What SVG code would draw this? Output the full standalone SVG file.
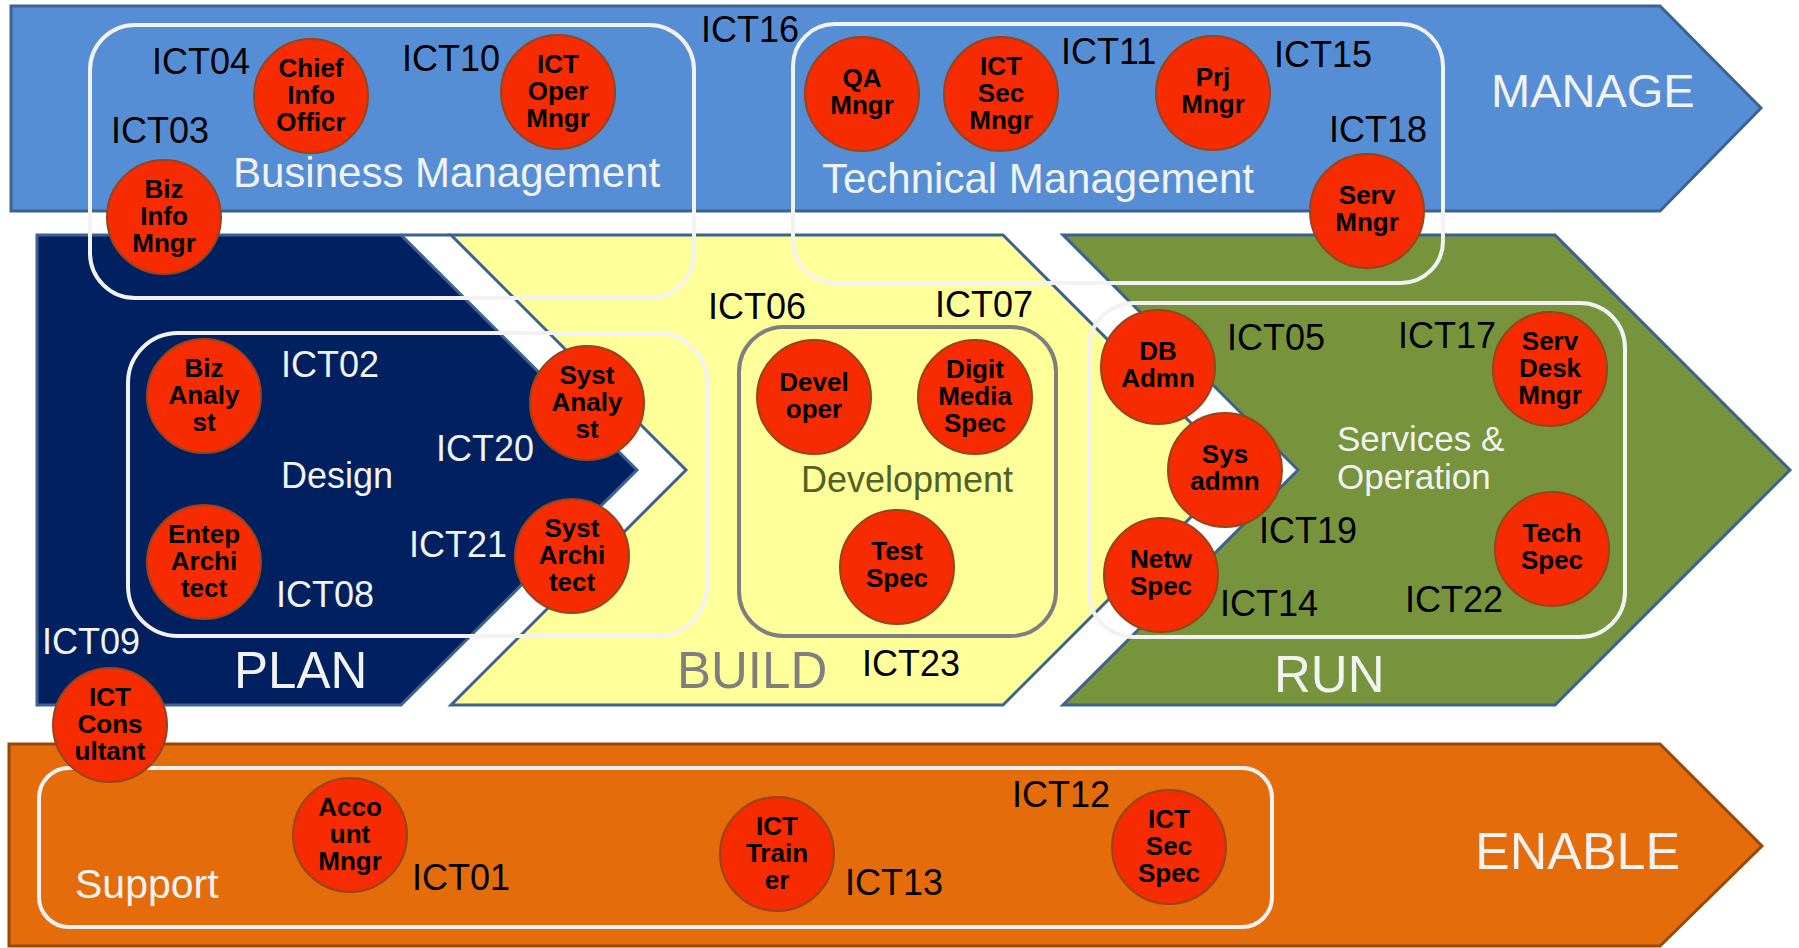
<svg xmlns="http://www.w3.org/2000/svg" width="1799" height="948" viewBox="0 0 1799 948">
<style>
.band{stroke:#3B6291;stroke-width:3;stroke-linejoin:miter}
.box{fill:none;stroke:#F2F2F2;stroke-width:4}
.role circle{fill:#F62C00;stroke:#93461C;stroke-width:2}
.role text{font-family:"Liberation Sans",Arial,sans-serif;font-weight:bold;font-size:26px;fill:#000;text-anchor:middle}
.lbl{font-family:"Liberation Sans",Arial,sans-serif;font-size:36px;fill:#000}
.lbl.w{fill:#F2F2F2}
.title{font-family:"Liberation Sans",Arial,sans-serif;fill:#F2F2F2}
</style>
<rect width="1799" height="948" fill="#fff"/>
<g id="bands">
<path id="manage" class="band" d="M11,6 H1660 L1761,108 L1660,211 H11 Z" fill="#558ED5"/>
<path id="plan" class="band" d="M37,235 H401 L637,470 L401,705 H37 Z" fill="#002060"/>
<path id="build" class="band" d="M451,235 H1003 L1238,470 L1003,705 H451 L686,470 Z" fill="#FFFF99"/>
<path id="run" class="band" d="M1063,235 H1555 L1790,470 L1555,705 H1063 L1298,470 Z" fill="#77933C"/>
<path id="enable" class="band" d="M9,744 H1660 L1762,846 L1660,946 H9 Z" fill="#E46C0A" style="stroke:#984807"/>
<line x1="401" y1="235" x2="451" y2="235" stroke="#3B6291" stroke-width="3"/>
</g>
<g id="groups">
<rect id="box-business" class="box" x="90" y="25" width="604" height="273" rx="45"/>
<rect id="box-technical" class="box" x="793" y="24" width="650" height="259" rx="42"/>
<rect id="box-design" class="box" x="128" y="333" width="579" height="303" rx="50"/>
<rect id="box-development" class="box" x="739" y="327" width="317" height="309" rx="45" style="stroke:#7F7F7F"/>
<rect id="box-services" class="box" x="1089" y="303" width="536" height="334" rx="45"/>
<rect id="box-support" class="box" x="39" y="768" width="1233" height="159" rx="30"/>
</g>
<g id="titles">
<text class="title" x="233" y="187" font-size="42">Business Management</text>
<text class="title" x="822" y="193" font-size="42">Technical Management</text>
<text class="title" x="1491" y="107" font-size="47">MANAGE</text>
<text class="title" x="281" y="488" font-size="36">Design</text>
<text class="title" x="234" y="688" font-size="51">PLAN</text>
<text class="title" x="677" y="688" font-size="51" style="fill:#7F7F7F">BUILD</text>
<text class="title" x="801" y="492" font-size="36" style="fill:#4F6228">Development</text>
<text class="title" x="1337" y="451" font-size="35">Services &amp;</text>
<text class="title" x="1337" y="489" font-size="35">Operation</text>
<text class="title" x="1274" y="692" font-size="51">RUN</text>
<text class="title" x="75" y="898" font-size="41">Support</text>
<text class="title" x="1475" y="869" font-size="52">ENABLE</text>
</g>
<g id="n-cio" class="role"><circle cx="311" cy="96" r="57"/><text x="311" y="77">Chief<tspan x="311" dy="27">Info</tspan><tspan x="311" dy="27">Officr</tspan></text></g>
<g id="n-icto" class="role"><circle cx="558" cy="92" r="57"/><text x="558" y="73">ICT<tspan x="558" dy="27">Oper</tspan><tspan x="558" dy="27">Mngr</tspan></text></g>
<g id="n-bim" class="role"><circle cx="164" cy="217" r="57"/><text x="164" y="198">Biz<tspan x="164" dy="27">Info</tspan><tspan x="164" dy="27">Mngr</tspan></text></g>
<g id="n-qa" class="role"><circle cx="862" cy="94" r="57"/><text x="862" y="87">QA<tspan x="862" dy="27">Mngr</tspan></text></g>
<g id="n-secm" class="role"><circle cx="1001" cy="94" r="57"/><text x="1001" y="75">ICT<tspan x="1001" dy="27">Sec</tspan><tspan x="1001" dy="27">Mngr</tspan></text></g>
<g id="n-prj" class="role"><circle cx="1213" cy="93" r="57"/><text x="1213" y="86">Prj<tspan x="1213" dy="27">Mngr</tspan></text></g>
<g id="n-serv" class="role"><circle cx="1367" cy="211" r="57"/><text x="1367" y="204">Serv<tspan x="1367" dy="27">Mngr</tspan></text></g>
<g id="n-ba" class="role"><circle cx="204" cy="396" r="57"/><text x="204" y="377">Biz<tspan x="204" dy="27">Analy</tspan><tspan x="204" dy="27">st</tspan></text></g>
<g id="n-ea" class="role"><circle cx="204" cy="562" r="57"/><text x="204" y="543">Entep<tspan x="204" dy="27">Archi</tspan><tspan x="204" dy="27">tect</tspan></text></g>
<g id="n-sa" class="role"><circle cx="587" cy="403" r="57"/><text x="587" y="384">Syst<tspan x="587" dy="27">Analy</tspan><tspan x="587" dy="27">st</tspan></text></g>
<g id="n-sarch" class="role"><circle cx="572" cy="556" r="57"/><text x="572" y="537">Syst<tspan x="572" dy="27">Archi</tspan><tspan x="572" dy="27">tect</tspan></text></g>
<g id="n-cons" class="role"><circle cx="110" cy="725" r="57"/><text x="110" y="706">ICT<tspan x="110" dy="27">Cons</tspan><tspan x="110" dy="27">ultant</tspan></text></g>
<g id="n-dev" class="role"><circle cx="814" cy="397" r="57"/><text x="814" y="391">Devel<tspan x="814" dy="27">oper</tspan></text></g>
<g id="n-dms" class="role"><circle cx="975" cy="397" r="57"/><text x="975" y="378">Digit<tspan x="975" dy="27">Media</tspan><tspan x="975" dy="27">Spec</tspan></text></g>
<g id="n-test" class="role"><circle cx="897" cy="567" r="57"/><text x="897" y="560">Test<tspan x="897" dy="27">Spec</tspan></text></g>
<g id="n-dba" class="role"><circle cx="1158" cy="367" r="57"/><text x="1158" y="360">DB<tspan x="1158" dy="27">Admn</tspan></text></g>
<g id="n-sys" class="role"><circle cx="1225" cy="470" r="57"/><text x="1225" y="463">Sys<tspan x="1225" dy="27">admn</tspan></text></g>
<g id="n-netw" class="role"><circle cx="1161" cy="575" r="57"/><text x="1161" y="568">Netw<tspan x="1161" dy="27">Spec</tspan></text></g>
<g id="n-sdm" class="role"><circle cx="1550" cy="369" r="57"/><text x="1550" y="350">Serv<tspan x="1550" dy="27">Desk</tspan><tspan x="1550" dy="27">Mngr</tspan></text></g>
<g id="n-tech" class="role"><circle cx="1552" cy="549" r="57"/><text x="1552" y="542">Tech<tspan x="1552" dy="27">Spec</tspan></text></g>
<g id="n-acc" class="role"><circle cx="350" cy="835" r="57"/><text x="350" y="816">Acco<tspan x="350" dy="27">unt</tspan><tspan x="350" dy="27">Mngr</tspan></text></g>
<g id="n-train" class="role"><circle cx="777" cy="854" r="57"/><text x="777" y="835">ICT<tspan x="777" dy="27">Train</tspan><tspan x="777" dy="27">er</tspan></text></g>
<g id="n-secs" class="role"><circle cx="1169" cy="847" r="57"/><text x="1169" y="828">ICT<tspan x="1169" dy="27">Sec</tspan><tspan x="1169" dy="27">Spec</tspan></text></g>
<g id="labels">
<text class="lbl" x="152" y="74">ICT04</text>
<text class="lbl" x="402" y="71">ICT10</text>
<text class="lbl" x="111" y="143">ICT03</text>
<text class="lbl" x="701" y="42">ICT16</text>
<text class="lbl" x="1061" y="64">ICT11</text>
<text class="lbl" x="1274" y="67">ICT15</text>
<text class="lbl" x="1329" y="142">ICT18</text>
<text class="lbl" x="708" y="319">ICT06</text>
<text class="lbl" x="935" y="317">ICT07</text>
<text class="lbl" x="862" y="676">ICT23</text>
<text class="lbl w" x="281" y="377">ICT02</text>
<text class="lbl w" x="436" y="461">ICT20</text>
<text class="lbl w" x="409" y="557">ICT21</text>
<text class="lbl w" x="276" y="607">ICT08</text>
<text class="lbl w" x="42" y="654">ICT09</text>
<text class="lbl" x="1227" y="350">ICT05</text>
<text class="lbl" x="1398" y="348">ICT17</text>
<text class="lbl" x="1259" y="543">ICT19</text>
<text class="lbl" x="1220" y="616">ICT14</text>
<text class="lbl" x="1405" y="612">ICT22</text>
<text class="lbl" x="412" y="890">ICT01</text>
<text class="lbl" x="845" y="895">ICT13</text>
<text class="lbl" x="1012" y="807">ICT12</text>
</g>
</svg>
